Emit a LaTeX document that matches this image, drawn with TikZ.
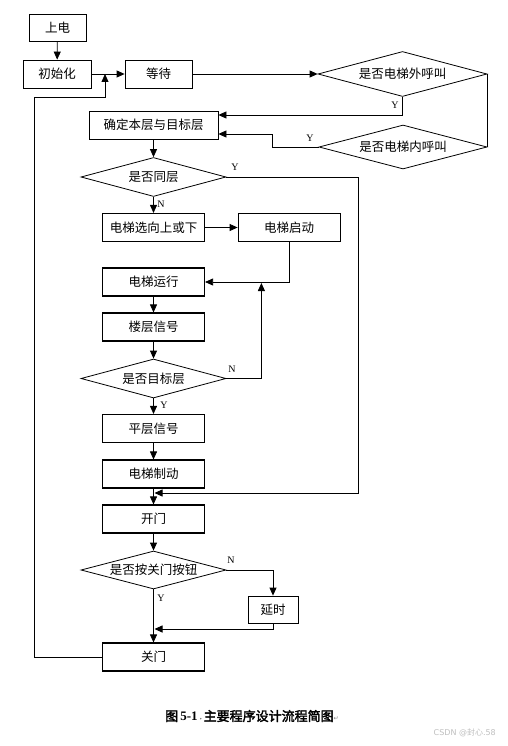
\documentclass[tikz,border=0pt]{standalone}
\usepackage{fontspec}
\newfontfamily\cjk{Noto Sans CJK SC}
\newfontfamily\cjkb[FakeBold=2.5]{Noto Sans CJK SC}
\newfontfamily\lab{Liberation Serif}
\newfontfamily\capnum{Liberation Serif}
\usetikzlibrary{shapes.geometric,arrows.meta}
\tikzset{
  box/.style={draw, line width=1.1pt, minimum width=102pt, minimum height=28pt, inner sep=0pt,
    font=\cjk\fontsize{12.5}{12.5}\selectfont},
  tbox/.style={box, line width=0.8pt},
  dia/.style={draw, diamond, line width=0.8pt, inner sep=0pt, aspect=3.7,
    font=\cjk\fontsize{12.5}{12.5}\selectfont},
  ln/.style={line width=0.8pt},
  arr/.style={ln, -{Triangle[length=8pt,width=7pt]}},
  yn/.style={font=\lab\fontsize{10}{10}\selectfont, inner sep=0pt}
}
\begin{document}
\begin{tikzpicture}[x=1pt,y=-1pt]
\useasboundingbox[fill=white] (0,0) rectangle (508,746);
% nodes
\node[tbox, minimum width=57pt, minimum height=27pt] (pow) at (57.5,28) {上电};
\node[tbox, minimum width=68pt] (init) at (57,74) {初始化};
\node[tbox, minimum width=67pt] (wait) at (158.5,74) {等待};
\node[dia, minimum width=169pt, minimum height=45pt] (outer) at (402.5,74) {是否电梯外呼叫};
\node[dia, minimum width=168pt, minimum height=44pt] (inner) at (403,147) {是否电梯内呼叫};
\node[tbox, minimum width=129pt] (cur) at (153.5,125) {确定本层与目标层};
\node[dia, minimum width=145pt, minimum height=39pt] (same) at (153.5,177) {是否同层};
\node[box] (dir) at (153.5,227.5) {电梯选向上或下};
\node[tbox] (start) at (289,227.5) {电梯启动};
\node[box] (run) at (153.5,282) {电梯运行};
\node[box] (fsig) at (153.5,327) {楼层信号};
\node[dia, minimum width=145pt, minimum height=39pt] (tgt) at (153.5,378.5) {是否目标层};
\node[box] (lsig) at (153.5,428.5) {平层信号};
\node[box] (brake) at (153.5,474) {电梯制动};
\node[box] (open) at (153.5,519) {开门};
\node[dia, minimum width=145pt, minimum height=38pt] (btn) at (153.5,570) {是否按关门按钮};
\node[tbox, minimum width=50pt, minimum height=27pt] (delay) at (273,609.5) {延时};
\node[box] (close) at (153.5,657) {关门};
% junction coordinates
\coordinate (jw) at (105,74);
\coordinate (jo) at (154.5,493);
\coordinate (jc) at (154.5,629);
% connectors
\draw[arr] (pow) -- (init);
\draw[arr] (init) -- (wait);
\draw[arr] (wait) -- (outer);
\draw[ln] (outer.east) -- (inner.east);
\draw[arr] (outer.south) |- ([yshift=10pt]cur.east);
\draw[arr] (inner.west) -- ++(-46,0) |- ([yshift=-9pt]cur.east);
\draw[arr] (cur) -- (same);
\draw[arr] (same) -- (dir);
\draw[arr] (dir) -- (start);
\draw[arr] (start.south) |- (run.east);
\draw[arr] (run) -- (fsig);
\draw[arr] (fsig) -- (tgt);
\draw[arr] (tgt.east) -- ++(35,0) -- ++(0,-95.5);
\draw[arr] (tgt) -- (lsig);
\draw[arr] (lsig) -- (brake);
\draw[arr] (brake) -- (open);
\draw[arr] (same.east) -- ++(131.5,0) |- (jo);
\draw[arr] (open) -- (btn);
\draw[arr] (btn.east) -| (delay.north);
\draw[arr] (delay.south) |- (jc);
\draw[arr] (btn.south) -- (close.north);
\draw[arr] (close.west) -- ++(-67.5,0) |- (105,97) -- (jw);
% labels
\node[yn] at (395,105) {Y};
\node[yn] at (310,138) {Y};
\node[yn] at (235,167) {Y};
\node[yn] at (161,204) {N};
\node[yn] at (232,369) {N};
\node[yn] at (164,405) {Y};
\node[yn] at (231,560) {N};
\node[yn] at (161,598) {Y};
% caption
\node[inner sep=0pt, anchor=west] (cap) at (165,716) {\cjkb\fontsize{13}{13}\selectfont 图\,{\capnum\bfseries 5-1}{\color{gray}\fontsize{6}{6}\selectfont·}主要程序设计流程简图{\fontspec{DejaVu Sans}\color{gray}\fontsize{6}{6}\selectfont ↵}};
\node[inner sep=0pt, anchor=east, text=black!25] (wm) at (496,733) {\fontspec{DejaVu Sans}\fontsize{8}{8}\selectfont CSDN @{\cjk 封心}.58};
\end{tikzpicture}
\end{document}
